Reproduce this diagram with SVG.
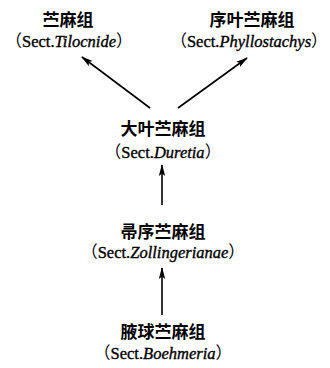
<svg xmlns="http://www.w3.org/2000/svg" width="330" height="368" viewBox="0 0 330 368">
<defs>
<marker id="ah" viewBox="0 0 12 8" refX="11" refY="4" markerWidth="12" markerHeight="8" markerUnits="userSpaceOnUse" orient="auto">
<path d="M0,0.8 L12,4 L0,7.2 L2.5,4 Z" fill="#000"/>
</marker>
<style>
.zh{font-family:"Noto Sans CJK SC","Noto Sans CJK JP",sans-serif;font-size:17px;font-weight:700;fill:#000;text-anchor:middle}
.la{font-family:"Liberation Serif","Noto Sans CJK SC",serif;font-size:16.5px;fill:#000;stroke:#000;stroke-width:0.35;text-anchor:middle}
.la .i{font-style:italic}
.p{font-family:"Noto Sans CJK SC",sans-serif;stroke-width:0}
.c{stroke:#000;stroke-width:1.6;fill:none;marker-end:url(#ah)}
</style>
</defs>
<rect width="330" height="368" fill="#fff"/>
<g id="connectors">
<line class="c" x1="150" y1="108" x2="82" y2="57"/>
<line class="c" x1="178" y1="108" x2="247" y2="58"/>
<line class="c" x1="162" y1="205" x2="162" y2="165"/>
<line class="c" x1="162" y1="315" x2="162" y2="268"/>
</g>
<g id="tilocnide">
<text class="zh" x="68" y="26">苎麻组</text>
<text class="la" x="69" y="47"><tspan class="p">（</tspan>Sect.<tspan class="i">Tilocnide</tspan><tspan class="p">）</tspan></text>
</g>
<g id="phyllostachys">
<text class="zh" x="252" y="26">序叶苎麻组</text>
<text class="la" x="249" y="47"><tspan class="p">（</tspan>Sect.<tspan class="i">Phyllostachys</tspan><tspan class="p">）</tspan></text>
</g>
<g id="duretia">
<text class="zh" x="163" y="135">大叶苎麻组</text>
<text class="la" x="163" y="158"><tspan class="p">（</tspan>Sect.<tspan class="i">Duretia</tspan><tspan class="p">）</tspan></text>
</g>
<g id="zollingerianae">
<text class="zh" x="163" y="238">帚序苎麻组</text>
<text class="la" x="163" y="258"><tspan class="p">（</tspan>Sect.<tspan class="i">Zollingerianae</tspan><tspan class="p">）</tspan></text>
</g>
<g id="boehmeria">
<text class="zh" x="163" y="338">腋球苎麻组</text>
<text class="la" x="163" y="359"><tspan class="p">（</tspan>Sect.<tspan class="i">Boehmeria</tspan><tspan class="p">）</tspan></text>
</g>
</svg>
